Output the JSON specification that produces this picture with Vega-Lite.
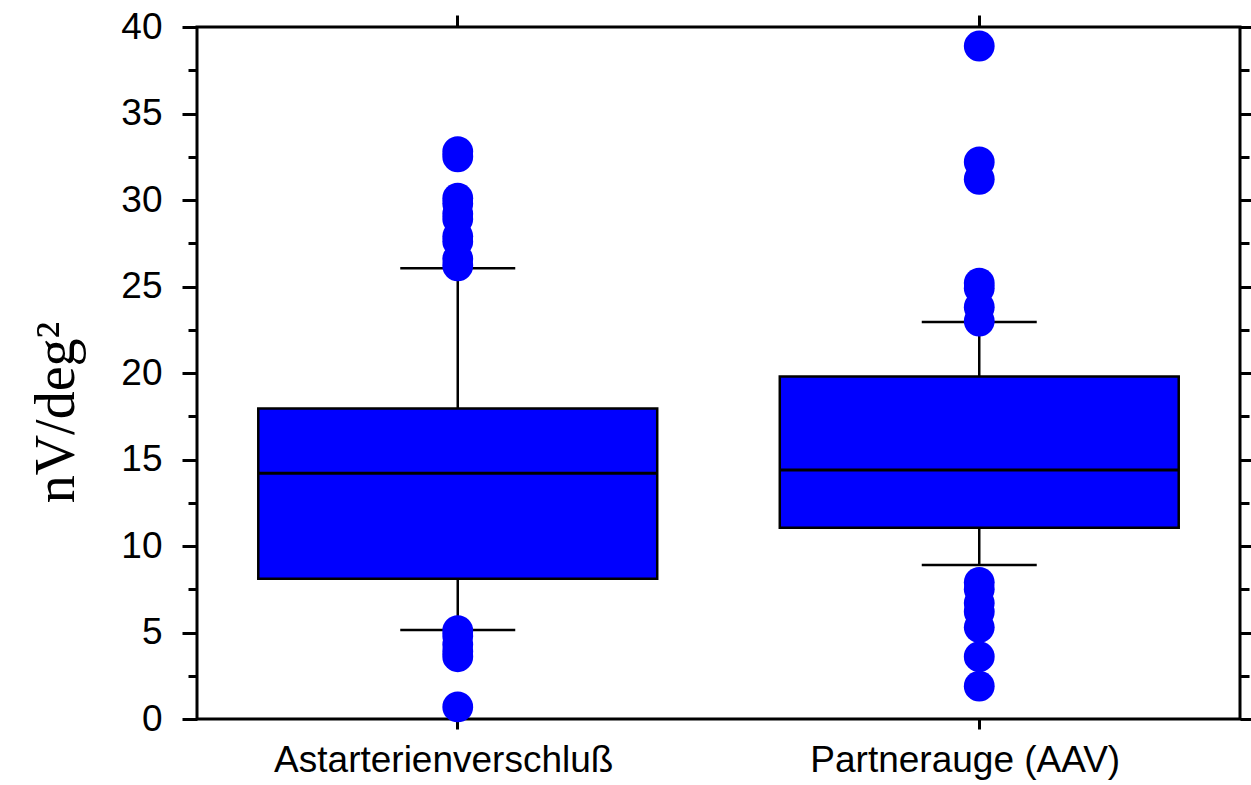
{
  "$schema": "https://vega.github.io/schema/vega-lite/v6.json",
  "autosize": {"type": "none"},
  "width": 1043,
  "height": 692,
  "padding": {"left": 197, "top": 27, "right": 11, "bottom": 66},
  "background": "white",
  "config": {
    "view": {"stroke": "black", "strokeWidth": 3},
    "axis": {"domain": false, "grid": false, "tickColor": "black", "tickWidth": 3, "labelColor": "black", "labelFont": "Liberation Sans", "labelFontSize": 37, "labelLimit": 0, "titleColor": "black"}
  },
  "datasets": {
    "box": [
      {"cat": "Astarterienverschluß", "lo": 5.15, "q1": 8.1, "med": 14.2, "q3": 17.95, "hi": 26.05},
      {"cat": "Partnerauge (AAV)", "lo": 8.9, "q1": 11.05, "med": 14.4, "q3": 19.8, "hi": 22.95}
    ],
    "out": [
      {"cat": "Astarterienverschluß", "v": 32.8},
      {"cat": "Astarterienverschluß", "v": 32.5},
      {"cat": "Astarterienverschluß", "v": 30.1},
      {"cat": "Astarterienverschluß", "v": 29.8},
      {"cat": "Astarterienverschluß", "v": 29.2},
      {"cat": "Astarterienverschluß", "v": 28.9},
      {"cat": "Astarterienverschluß", "v": 27.9},
      {"cat": "Astarterienverschluß", "v": 27.6},
      {"cat": "Astarterienverschluß", "v": 26.6},
      {"cat": "Astarterienverschluß", "v": 26.2},
      {"cat": "Astarterienverschluß", "v": 5.1},
      {"cat": "Astarterienverschluß", "v": 4.8},
      {"cat": "Astarterienverschluß", "v": 4.3},
      {"cat": "Astarterienverschluß", "v": 3.9},
      {"cat": "Astarterienverschluß", "v": 3.6},
      {"cat": "Astarterienverschluß", "v": 0.7},
      {"cat": "Partnerauge (AAV)", "v": 38.9},
      {"cat": "Partnerauge (AAV)", "v": 32.2},
      {"cat": "Partnerauge (AAV)", "v": 31.2},
      {"cat": "Partnerauge (AAV)", "v": 25.2},
      {"cat": "Partnerauge (AAV)", "v": 24.9},
      {"cat": "Partnerauge (AAV)", "v": 23.8},
      {"cat": "Partnerauge (AAV)", "v": 23.0},
      {"cat": "Partnerauge (AAV)", "v": 7.9},
      {"cat": "Partnerauge (AAV)", "v": 7.5},
      {"cat": "Partnerauge (AAV)", "v": 6.7},
      {"cat": "Partnerauge (AAV)", "v": 6.2},
      {"cat": "Partnerauge (AAV)", "v": 5.3},
      {"cat": "Partnerauge (AAV)", "v": 3.6},
      {"cat": "Partnerauge (AAV)", "v": 1.9}
    ]
  },
  "resolve": {"axis": {"x": "independent", "y": "independent"}},
  "layer": [
    {
      "data": {"name": "box"},
      "mark": {"type": "rule", "color": "black", "strokeWidth": 2.5},
      "encoding": {
        "x": {"field": "cat", "type": "nominal", "sort": null, "scale": {"type": "band", "paddingInner": 0, "paddingOuter": 0},
          "axis": {"orient": "bottom", "title": null, "labelAngle": 0, "tickSize": 10, "labelPadding": 13, "labelOffset": -14}},
        "y": {"field": "lo", "type": "quantitative", "scale": {"domain": [0, 40], "nice": false, "zero": true},
          "axis": {"orient": "left", "values": [0, 5, 10, 15, 20, 25, 30, 35, 40], "tickSize": 15, "labelPadding": 20,
            "title": "nV/deg²", "titleFont": "Liberation Serif", "titleFontSize": 56, "titleFontWeight": "normal",
            "titleAngle": -90, "titleAlign": "center", "titleBaseline": "alphabetic", "titleX": -124, "titleY": 385}},
        "y2": {"field": "q1"}
      }
    },
    {
      "data": {"name": "box"},
      "mark": {"type": "rule", "color": "black", "strokeWidth": 2.5},
      "encoding": {
        "x": {"field": "cat", "type": "nominal", "sort": null,
          "axis": {"orient": "top", "title": null, "labels": false, "tickSize": 12}},
        "y": {"field": "q3", "type": "quantitative",
          "axis": {"orient": "right", "values": [0, 5, 10, 15, 20, 25, 30, 35, 40], "tickSize": 15, "labels": false, "title": null}},
        "y2": {"field": "hi"}
      }
    },
    {
      "data": {"name": "box"},
      "mark": {"type": "bar", "fill": "#0000ff", "opacity": 1, "stroke": "black", "strokeWidth": 2.5, "width": {"band": 0.765}},
      "encoding": {
        "x": {"field": "cat", "type": "nominal", "sort": null, "axis": null},
        "y": {"field": "q1", "type": "quantitative",
          "axis": {"orient": "left", "values": [2.5, 7.5, 12.5, 17.5, 22.5, 27.5, 32.5, 37.5], "tickSize": 9, "labels": false, "title": null}},
        "y2": {"field": "q3"}
      }
    },
    {
      "data": {"name": "box"},
      "mark": {"type": "tick", "color": "black", "opacity": 1, "thickness": 3, "size": 399},
      "encoding": {
        "x": {"field": "cat", "type": "nominal", "sort": null, "axis": null},
        "y": {"field": "med", "type": "quantitative",
          "axis": {"orient": "right", "values": [2.5, 7.5, 12.5, 17.5, 22.5, 27.5, 32.5, 37.5], "tickSize": 9, "labels": false, "title": null}}
      }
    },
    {
      "data": {"name": "box"},
      "mark": {"type": "tick", "color": "black", "opacity": 1, "thickness": 2.5, "size": 115},
      "encoding": {
        "x": {"field": "cat", "type": "nominal", "sort": null, "axis": null},
        "y": {"field": "lo", "type": "quantitative", "axis": null}
      }
    },
    {
      "data": {"name": "box"},
      "mark": {"type": "tick", "color": "black", "opacity": 1, "thickness": 2.5, "size": 115},
      "encoding": {
        "x": {"field": "cat", "type": "nominal", "sort": null, "axis": null},
        "y": {"field": "hi", "type": "quantitative", "axis": null}
      }
    },
    {
      "data": {"name": "out"},
      "mark": {"type": "circle", "color": "#0000ff", "opacity": 1, "size": 950},
      "encoding": {
        "x": {"field": "cat", "type": "nominal", "sort": null, "axis": null},
        "y": {"field": "v", "type": "quantitative", "axis": null}
      }
    }
  ]
}
